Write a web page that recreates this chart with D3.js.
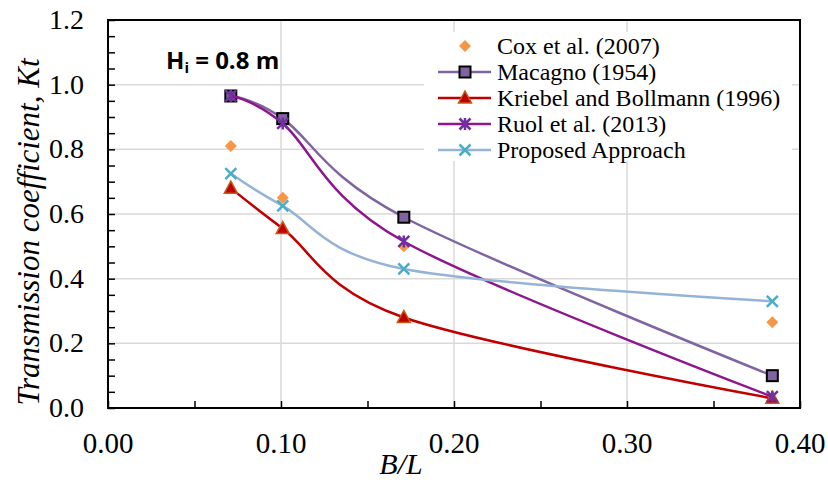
<!DOCTYPE html>
<html>
  <head>
    <meta charset="utf-8">
    <title>Transmission coefficient</title>
    <script src="https://d3js.org/d3.v7.min.js"></script>
    <style>
      body { margin: 0; background: #fff; }
      text { font-family: "Liberation Serif", "Times New Roman", serif; }
    </style>
  </head>
  <body>
    <script>
      // data
      const bl = [0.071, 0.101, 0.171, 0.384];
      const cox = [0.81, 0.65, 0.50, 0.265];
      const macagno = [0.965, 0.895, 0.59, 0.10];
      const kriebel = [0.68, 0.555, 0.28, 0.03];
      const ruol = [0.965, 0.88, 0.515, 0.035];
      const proposed = [0.725, 0.625, 0.43, 0.33];
      const xTicks = [0, 0.1, 0.2, 0.3, 0.4];
      const yTicks = [0, 0.2, 0.4, 0.6, 0.8, 1.0, 1.2];
      const seriesNames = ["Cox et al. (2007)", "Macagno (1954)", "Kriebel and Bollmann (1996)", "Ruol et al. (2013)", "Proposed Approach"];

      const W = 828, H = 480;
      const m = {left: 108, right: 28, top: 20, bottom: 72};

      const svg = d3.select("body").append("svg")
          .attr("width", W)
          .attr("height", H);

      const x = d3.scaleLinear().domain([0, 0.4]).range([m.left, W - m.right]);
      const y = d3.scaleLinear().domain([0, 1.2]).range([H - m.bottom, m.top]);

      // gridlines
      svg.append("g").selectAll("line")
          .data(xTicks.slice(1, -1))
          .join("line")
          .attr("x1", d => x(d)).attr("x2", d => x(d))
          .attr("y1", y(0)).attr("y2", y(1.2))
          .style("stroke", "#d9d9d9").style("stroke-width", 1.5);
      svg.append("g").selectAll("line")
          .data(yTicks.slice(1, -1))
          .join("line")
          .attr("x1", x(0)).attr("x2", x(0.4))
          .attr("y1", d => y(d)).attr("y2", d => y(d))
          .style("stroke", "#d9d9d9").style("stroke-width", 1.5);

      // axes with inward minor ticks
      svg.append("g")
          .attr("transform", `translate(0,${y(0)})`)
          .call(d3.axisTop(x).tickValues(d3.range(0, 0.401, 0.05)).tickFormat("").tickSize(7).tickSizeOuter(0))
          .call(g => g.select(".domain").remove())
          .selectAll("line").style("stroke", "#000").style("stroke-width", 1.5);
      svg.append("g")
          .attr("transform", `translate(${x(0)},0)`)
          .call(d3.axisRight(y).tickValues(d3.range(0, 1.201, 0.05)).tickFormat("").tickSize(7).tickSizeOuter(0))
          .call(g => g.select(".domain").remove())
          .selectAll("line").style("stroke", "#000").style("stroke-width", 1.5);

      // tick labels
      svg.append("g").selectAll("text")
          .data(xTicks)
          .join("text")
          .attr("x", d => x(d))
          .attr("y", 453)
          .attr("text-anchor", "middle")
          .style("font-size", "29px")
          .text(d => d.toFixed(2));
      svg.append("g").selectAll("text")
          .data(yTicks)
          .join("text")
          .attr("x", 84)
          .attr("y", d => y(d) + 9)
          .attr("text-anchor", "end")
          .style("font-size", "28px")
          .text(d => d.toFixed(1));

      // axis titles
      svg.append("text")
          .attr("transform", "translate(39,232) rotate(-90)")
          .attr("text-anchor", "middle")
          .style("font-size", "31px")
          .style("font-style", "italic")
          .text("Transmission coefficient, Kt");
      svg.append("text")
          .attr("x", 401)
          .attr("y", 474)
          .attr("text-anchor", "middle")
          .style("font-size", "30px")
          .style("font-style", "italic")
          .text("B/L");

      // smoothed lines
      const line = d3.line()
          .x((d, i) => x(bl[i]))
          .y(d => y(d))
          .curve(d3.curveCatmullRom.alpha(0));

      const series = [
        {name: seriesNames[0], vals: cox, line: null, marker: "diamond", fill: "#f79646", stroke: "none"},
        {name: seriesNames[1], vals: macagno, line: "#8064a2", marker: "square", fill: "#8064a2", stroke: "#000"},
        {name: seriesNames[2], vals: kriebel, line: "#c00000", marker: "triangle", fill: "#c00000", stroke: "#c55a11"},
        {name: seriesNames[3], vals: ruol, line: "#8e168c", marker: "star", fill: "none", stroke: "#7030a0"},
        {name: seriesNames[4], vals: proposed, line: "#95b3d7", marker: "x", fill: "none", stroke: "#4bacc6"}
      ];

      function drawMarker(g, type, cx, cy, s) {
        if (type === "diamond") {
          g.append("path")
              .attr("d", `M${cx},${cy - 6}L${cx + 6},${cy}L${cx},${cy + 6}L${cx - 6},${cy}Z`)
              .style("fill", s.fill);
        } else if (type === "square") {
          g.append("rect")
              .attr("x", cx - 5.5).attr("y", cy - 5.5)
              .attr("width", 11).attr("height", 11)
              .style("fill", s.fill).style("stroke", s.stroke).style("stroke-width", 2);
        } else if (type === "triangle") {
          g.append("path")
              .attr("d", `M${cx},${cy - 7}L${cx + 6.5},${cy + 5}L${cx - 6.5},${cy + 5}Z`)
              .style("fill", s.fill).style("stroke", s.stroke).style("stroke-width", 1.5);
        } else if (type === "star") {
          g.append("path")
              .attr("d", `M${cx - 5.5},${cy - 5.5}L${cx + 5.5},${cy + 5.5}M${cx + 5.5},${cy - 5.5}L${cx - 5.5},${cy + 5.5}M${cx},${cy - 6}L${cx},${cy + 6}`)
              .style("fill", "none").style("stroke", s.stroke).style("stroke-width", 2.5);
        } else if (type === "x") {
          g.append("path")
              .attr("d", `M${cx - 5.5},${cy - 5.5}L${cx + 5.5},${cy + 5.5}M${cx + 5.5},${cy - 5.5}L${cx - 5.5},${cy + 5.5}`)
              .style("fill", "none").style("stroke", s.stroke).style("stroke-width", 2.5);
        }
      }

      series.forEach(s => {
        const g = svg.append("g");
        if (s.line) {
          g.append("path")
              .datum(s.vals)
              .attr("d", line)
              .style("fill", "none")
              .style("stroke", s.line)
              .style("stroke-width", 2.5);
        }
        s.vals.forEach((v, i) => drawMarker(g, s.marker, x(bl[i]), y(v), s));
      });

      // frame
      svg.append("rect")
          .attr("x", x(0)).attr("y", y(1.2))
          .attr("width", x(0.4) - x(0)).attr("height", y(0) - y(1.2))
          .style("fill", "none").style("stroke", "#000").style("stroke-width", 2);

      // legend
      const leg = svg.append("g");
      leg.append("rect")
          .attr("x", 424).attr("y", 32).attr("width", 368).attr("height", 129)
          .style("fill", "#fff");
      series.forEach((s, i) => {
        const cy = 46 + i * 26;
        if (s.line) {
          leg.append("line")
              .attr("x1", 438).attr("x2", 491)
              .attr("y1", cy).attr("y2", cy)
              .style("stroke", s.line).style("stroke-width", 2.5);
        }
        drawMarker(leg, s.marker, 465, cy, s);
        leg.append("text")
            .attr("x", 497)
            .attr("y", cy + 8)
            .style("font-size", "24px")
            .text(s.name);
      });

      // wave height annotation
      const ann = svg.append("text")
          .attr("x", 166)
          .attr("y", 69)
          .style("font-family", "'Open Sans', 'Liberation Sans', sans-serif")
          .style("font-weight", "bold")
          .style("font-size", "24px");
      ann.append("tspan").text("H");
      ann.append("tspan").attr("dy", 4).style("font-size", "15px").text("i");
      ann.append("tspan").attr("dy", -4).text(" = 0.8 m");
    </script>
  </body>
</html>
